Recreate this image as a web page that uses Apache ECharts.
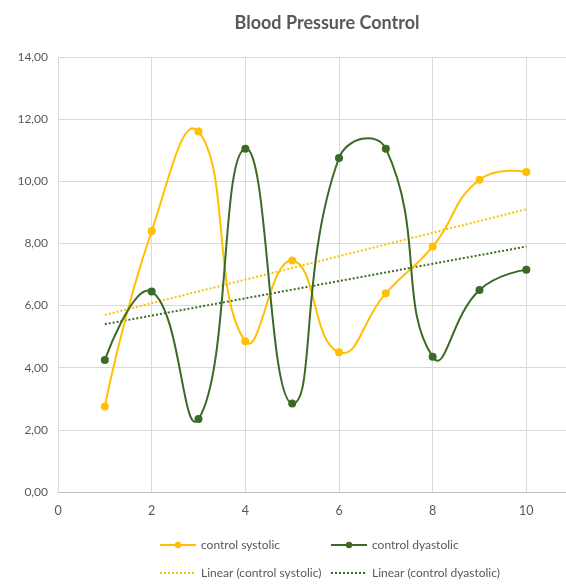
<!DOCTYPE html>
<html><head><meta charset="utf-8">
<script src="https://cdn.jsdelivr.net/npm/echarts@6/dist/echarts.min.js"></script>
<style>html,body{margin:0;padding:0;background:#fff}#c{width:566px;height:585px}</style>
</head><body><div id="c"></div>
<script>
const xValues = [1,2,3,4,5,6,7,8,9,10];
const systolic = [2.75,8.4,11.6,4.85,7.45,4.5,6.4,7.9,10.05,10.3];
const diastolic = [4.25,6.45,2.35,11.05,2.85,10.75,11.05,4.35,6.5,7.15];
const trendX = [1,10];
const trendSystolic = [5.7,9.1];
const trendDiastolic = [5.4,7.9];
const names = ['control systolic','control dyastolic','Linear (control systolic)','Linear (control dyastolic)'];
const yellow = '#FFC000', green = '#3A6A25';
const font = 'Lato, "Open Sans", sans-serif';
const pair = (xs, ys) => xs.map((x,i)=>[x, ys[i]]);

// Smoothed curve (Excel-like, unclamped Bezier) drawn through the chart's own coordinate system
function smoothRender(color) {
  const s = 0.5;
  return function (params, api) {
    const n = params.dataInsideLength;
    const i = params.dataIndexInside;
    const P = j => api.coord([api.value(0, j), api.value(1, j)]);
    const cp = (j, dir) => {
      const cur = P(j);
      if (j === 0 || j === n - 1) return cur;
      const prev = P(j - 1), next = P(j + 1);
      const vx = next[0] - prev[0], vy = next[1] - prev[1];
      const lp = Math.hypot(cur[0] - prev[0], cur[1] - prev[1]);
      const ln = Math.hypot(cur[0] - next[0], cur[1] - next[1]);
      const r = dir > 0 ? ln / (lp + ln) : -lp / (lp + ln);
      return [cur[0] + vx * s * r, cur[1] + vy * s * r];
    };
    const p = P(i);
    const children = [];
    if (i < n - 1) {
      const q = P(i + 1), c1 = cp(i, 1), c2 = cp(i + 1, -1);
      children.push({type:'bezierCurve', z2:0,
        shape:{x1:p[0], y1:p[1], x2:q[0], y2:q[1], cpx1:c1[0], cpy1:c1[1], cpx2:c2[0], cpy2:c2[1]},
        style:{stroke:color, lineWidth:2, fill:'none'}});
    }
    children.push({type:'circle', z2:10, shape:{cx:p[0], cy:p[1], r:4}, style:{fill:color}});
    return {type:'group', children};
  };
}

const chart = echarts.init(document.getElementById('c'));
const leg = (name, left, top, noSym) => ({
  data:[name], left, top, itemWidth:36, itemHeight:8, padding:0, itemGap:0,
  itemStyle: noSym ? {opacity:0} : {},
  textStyle:{color:'#595959', fontFamily:font, fontSize:12}, selectedMode:false
});
chart.setOption({
  animation:false,
  title:{text:'Blood Pressure Control', left:322, textAlign:'center', top:9,
    textStyle:{fontFamily:font, fontWeight:'bold', fontSize:18, color:'#595959'}},
  legend:[leg(names[0],159,539), leg(names[1],330,539), leg(names[2],159,567,true), leg(names[3],330,567,true)],
  grid:{left:58, right:-54, top:57, bottom:93, containLabel:false, outerBoundsMode:'none'},
  xAxis:{type:'value', min:0, max:12, interval:2,
    axisLine:{show:true, lineStyle:{color:'#bfbfbf'}}, axisTick:{show:false},
    axisLabel:{color:'#595959', fontFamily:font, fontSize:12.5, margin:12,
      formatter:v=> v>10 ? '' : String(v)},
    splitLine:{show:true, lineStyle:{color:'#d9d9d9'}}},
  yAxis:{type:'value', min:0, max:14, interval:2,
    axisLine:{show:false}, axisTick:{show:false},
    axisLabel:{color:'#595959', fontFamily:font, fontSize:12, margin:10,
      formatter:v=>v.toFixed(2).replace('.',',')},
    splitLine:{show:true, lineStyle:{color:'#d9d9d9'}}},
  series:[
    // legend-only entries (icons)
    {name:names[0], type:'line', data:[], symbol:'circle', symbolSize:7,
      itemStyle:{color:yellow}, lineStyle:{color:yellow, width:2}},
    {name:names[1], type:'line', data:[], symbol:'circle', symbolSize:7,
      itemStyle:{color:green}, lineStyle:{color:green, width:2}},
    // actual curves
    {name:'sysCurve', type:'custom', data:pair(xValues,systolic), encode:{x:0, y:1},
      renderItem:smoothRender(yellow), z:3},
    {name:'diaCurve', type:'custom', data:pair(xValues,diastolic), encode:{x:0, y:1},
      renderItem:smoothRender(green), z:4},
    {name:names[2], type:'line', data:pair(trendX,trendSystolic), showSymbol:false, symbol:'none',
      itemStyle:{color:yellow}, lineStyle:{color:yellow, width:2, type:[2,2]}, z:2},
    {name:names[3], type:'line', data:pair(trendX,trendDiastolic), showSymbol:false, symbol:'none',
      itemStyle:{color:green}, lineStyle:{color:green, width:2, type:[2,2]}, z:2}
  ]
});
</script></body></html>
